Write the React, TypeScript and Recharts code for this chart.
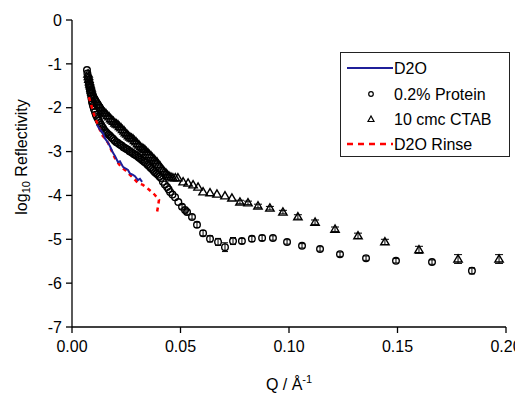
import { ScatterChart, Scatter, XAxis, YAxis, ErrorBar } from "recharts";

// Q (1/Å) and log10 R
const proteinQ = [0.0069, 0.0071, 0.0074, 0.0076, 0.0078, 0.0081, 0.0083, 0.0085, 0.0088, 0.009, 0.0092, 0.0094, 0.0097, 0.0101, 0.0106, 0.011, 0.0115, 0.012, 0.0124, 0.0129, 0.0134, 0.0138, 0.0143, 0.0147, 0.0152, 0.0157, 0.0161, 0.0168, 0.0175, 0.0182, 0.0189, 0.0196, 0.0203, 0.021, 0.0217, 0.0224, 0.023, 0.0237, 0.0244, 0.0251, 0.0258, 0.0265, 0.0272, 0.0279, 0.0286, 0.0293, 0.03, 0.0307, 0.0313, 0.032, 0.0327, 0.0334, 0.0341, 0.0348, 0.0355, 0.0362, 0.0369, 0.0376, 0.0382, 0.0389, 0.0396, 0.0403, 0.041, 0.0419, 0.0428, 0.0438, 0.0445, 0.0452, 0.0463, 0.0475, 0.049, 0.0507, 0.0521, 0.053, 0.0553, 0.0576, 0.0604, 0.0636, 0.0673, 0.0705, 0.0742, 0.0783, 0.0829, 0.0876, 0.0926, 0.0991, 0.106, 0.1143, 0.1235, 0.1355, 0.1493, 0.1659, 0.1843];
const proteinR = [-1.14, -1.22, -1.32, -1.4, -1.46, -1.53, -1.6, -1.66, -1.73, -1.79, -1.85, -1.9, -1.96, -2.03, -2.1, -2.16, -2.21, -2.26, -2.3, -2.35, -2.39, -2.43, -2.46, -2.5, -2.53, -2.56, -2.58, -2.61, -2.64, -2.68, -2.71, -2.75, -2.78, -2.8, -2.83, -2.85, -2.87, -2.9, -2.92, -2.94, -2.96, -2.99, -3.01, -3.03, -3.06, -3.08, -3.1, -3.13, -3.15, -3.18, -3.21, -3.24, -3.26, -3.3, -3.33, -3.37, -3.4, -3.44, -3.47, -3.5, -3.53, -3.57, -3.6, -3.69, -3.75, -3.81, -3.86, -3.92, -3.98, -4.04, -4.15, -4.26, -4.33, -4.38, -4.49, -4.67, -4.86, -4.99, -5.06, -5.18, -5.04, -5.04, -4.99, -4.97, -4.97, -5.06, -5.15, -5.22, -5.34, -5.43, -5.49, -5.52, -5.72];
// error bars of the last 22 protein points (Q >= 0.0507)
const proteinErrTail = [0.05, 0.05, 0.05, 0.05, 0.06, 0.06, 0.07, 0.08, 0.1, 0.08, 0.06, 0.06, 0.06, 0.05, 0.05, 0.05, 0.05, 0.05, 0.05, 0.05, 0.05, 0.07];

const ctabQ = [0.0074, 0.0076, 0.0078, 0.0081, 0.0083, 0.0085, 0.0088, 0.009, 0.0092, 0.0097, 0.0101, 0.0106, 0.0111, 0.0115, 0.012, 0.0124, 0.0129, 0.0134, 0.0138, 0.0143, 0.0147, 0.0152, 0.0157, 0.0164, 0.0171, 0.0178, 0.0184, 0.0191, 0.0198, 0.0205, 0.0212, 0.0219, 0.0226, 0.0233, 0.024, 0.0246, 0.0253, 0.026, 0.0267, 0.0274, 0.0281, 0.0288, 0.0295, 0.0302, 0.0309, 0.0316, 0.0323, 0.033, 0.0336, 0.0343, 0.035, 0.0357, 0.0364, 0.0371, 0.0378, 0.0385, 0.0392, 0.0399, 0.0406, 0.0413, 0.0419, 0.0426, 0.0433, 0.044, 0.0447, 0.0456, 0.0465, 0.0476, 0.0488, 0.0512, 0.0535, 0.0558, 0.0581, 0.0604, 0.0636, 0.0668, 0.0705, 0.0737, 0.0774, 0.0811, 0.0857, 0.0912, 0.0972, 0.1041, 0.112, 0.1212, 0.1318, 0.1442, 0.1599, 0.1779, 0.1968];
const ctabR = [-1.23, -1.29, -1.35, -1.41, -1.46, -1.5, -1.55, -1.6, -1.64, -1.69, -1.73, -1.78, -1.82, -1.86, -1.89, -1.93, -1.96, -2.0, -2.03, -2.07, -2.1, -2.12, -2.14, -2.18, -2.21, -2.25, -2.28, -2.31, -2.35, -2.37, -2.39, -2.43, -2.46, -2.5, -2.53, -2.57, -2.6, -2.64, -2.67, -2.69, -2.71, -2.75, -2.78, -2.82, -2.85, -2.89, -2.92, -2.94, -2.96, -3.0, -3.03, -3.07, -3.1, -3.14, -3.17, -3.21, -3.24, -3.29, -3.33, -3.38, -3.42, -3.46, -3.49, -3.53, -3.56, -3.58, -3.6, -3.6, -3.6, -3.69, -3.72, -3.76, -3.81, -3.92, -3.94, -3.97, -4.01, -4.06, -4.15, -4.17, -4.24, -4.29, -4.38, -4.49, -4.61, -4.77, -4.92, -5.06, -5.24, -5.45, -5.45];
// error bars of the last 22 CTAB points (Q >= 0.0512)
const ctabErrTail = [0, 0, 0, 0, 0, 0, 0, 0, 0, 0.04, 0.04, 0.04, 0.04, 0.04, 0.05, 0.05, 0.05, 0.06, 0.06, 0.08, 0.1, 0.1];

const d2oQ = [0.0115, 0.0129, 0.0143, 0.0152, 0.0166, 0.0175, 0.0189, 0.0198, 0.0212, 0.0221, 0.0235, 0.0244, 0.0258, 0.0267, 0.0281, 0.029, 0.0304, 0.0313, 0.0323];
const d2oR = [-2.39, -2.5, -2.58, -2.7, -2.8, -2.88, -3.03, -3.1, -3.24, -3.22, -3.35, -3.38, -3.42, -3.5, -3.53, -3.56, -3.65, -3.62, -3.69];

const rinseQ = [0.0078, 0.0092, 0.0106, 0.0124, 0.0138, 0.0152, 0.0166, 0.0184, 0.0198, 0.0214, 0.023, 0.0249, 0.0267, 0.0286, 0.0304, 0.0327, 0.035, 0.0368, 0.0382, 0.0401, 0.0396, 0.0392];
const rinseR = [-1.76, -2.0, -2.23, -2.45, -2.62, -2.7, -2.8, -3.0, -3.15, -3.27, -3.37, -3.44, -3.53, -3.62, -3.72, -3.76, -3.85, -3.92, -3.99, -4.1, -4.26, -4.38];

const xTicks = [0, 0.05, 0.1, 0.15, 0.2];
const yTicks = [0, -1, -2, -3, -4, -5, -6, -7];

const toPoints = (q: number[], r: number[], errTail: number[] = []) => {
  const start = q.length - errTail.length;
  return q.map((v, i) => ({ q: v, r: r[i], err: i >= start ? errTail[i - start] : 0 }));
};

const protein = toPoints(proteinQ, proteinR, proteinErrTail);
const ctab = toPoints(ctabQ, ctabR, ctabErrTail);
const d2o = toPoints(d2oQ, d2oR);
const rinse = toPoints(rinseQ, rinseR);

const FONT = "'Liberation Sans', Arial, sans-serif";

const OpenCircle = (p: any) => (
  <circle cx={p.cx} cy={p.cy} r={3.3} fill="none" stroke="#000" strokeWidth={1.4} />
);

const OpenTriangle = (p: any) => (
  <polygon
    points={`${p.cx},${p.cy - 4.2} ${p.cx - 4.2},${p.cy + 3} ${p.cx + 4.2},${p.cy + 3}`}
    fill="none"
    stroke="#000"
    strokeWidth={1.4}
  />
);

const NoDot = () => <g />;

function LegendBox() {
  return (
    <div style={{ position: "absolute", left: 332, top: 44, width: 168, height: 103, border: "1px solid #222", background: "#fff", fontFamily: FONT }}>
      <svg width={168} height={103} style={{ display: "block" }}>
        <line x1={6} x2={52} y1={15} y2={15} stroke="#1f1f99" strokeWidth={2} />
        <text x={53} y={21} fontSize={16} fill="#000">D2O</text>
        <circle cx={30} cy={41} r={2.3} fill="none" stroke="#000" strokeWidth={1.2} />
        <text x={53} y={47} fontSize={16} fill="#000">0.2% Protein</text>
        <polygon points="30,63 27,68.5 33,68.5" fill="none" stroke="#000" strokeWidth={1.2} />
        <text x={53} y={72} fontSize={16} fill="#000">10 cmc CTAB</text>
        <line x1={6} x2={52} y1={91} y2={91} stroke="#ff0000" strokeWidth={2.5} strokeDasharray="6 5" />
        <text x={53} y={97} fontSize={16} fill="#000">D2O Rinse</text>
      </svg>
    </div>
  );
}

const YLabel = () => (
  <text transform="rotate(-90, 15, 149)" x={15} y={149} textAnchor="middle" fontSize={16} fontFamily={FONT} fill="#000" dominantBaseline="middle">
    log<tspan fontSize={11} dy={4}>10</tspan><tspan dy={-4}> Reflectivity</tspan>
  </text>
);

const XLabel = () => (
  <text x={281} y={382} textAnchor="middle" fontSize={16} fontFamily={FONT} fill="#000">
    Q / Å<tspan fontSize={11} dy={-7}>-1</tspan>
  </text>
);

export default function App() {
  return (
    <div style={{ position: "relative", width: 515, height: 386, background: "#fff" }}>
      <ScatterChart width={515} height={386} margin={{ top: 12, right: 17, bottom: 17, left: 14 }}>
        <XAxis
          type="number"
          dataKey="q"
          domain={[0, 0.2]}
          ticks={xTicks}
          tickFormatter={(v: number) => v.toFixed(2)}
          tick={{ fill: "#000", fontSize: 16, fontFamily: FONT }}
          tickLine={{ stroke: "#000", strokeWidth: 1.3 }}
          axisLine={{ stroke: "#000", strokeWidth: 1.3 }}
          tickSize={6}
          tickMargin={8}
          height={50}
          allowDataOverflow
          label={<XLabel />}
        />
        <YAxis
          type="number"
          dataKey="r"
          domain={[-7, 0]}
          ticks={yTicks}
          tick={{ fill: "#000", fontSize: 16, fontFamily: FONT }}
          tickLine={{ stroke: "#000", strokeWidth: 1.3 }}
          axisLine={{ stroke: "#000", strokeWidth: 1.3 }}
          tickSize={6}
          tickMargin={4}
          width={50}
          allowDataOverflow
          label={<YLabel />}
        />
        <Scatter name="0.2% Protein" data={protein} shape={OpenCircle} isAnimationActive={false}>
          <ErrorBar dataKey="err" direction="y" width={3} stroke="#000" strokeWidth={1} />
        </Scatter>
        <Scatter name="10 cmc CTAB" data={ctab} shape={OpenTriangle} isAnimationActive={false}>
          <ErrorBar dataKey="err" direction="y" width={4} stroke="#000" strokeWidth={1} />
        </Scatter>
        <Scatter
          name="D2O Rinse"
          data={rinse}
          shape={NoDot}
          line={{ stroke: "#ff0000", strokeWidth: 2.5, strokeDasharray: "4 4" }}
          lineType="joint"
          isAnimationActive={false}
        />
        <Scatter
          name="D2O"
          data={d2o}
          shape={NoDot}
          line={{ stroke: "#1f1f99", strokeWidth: 2 }}
          lineType="joint"
          isAnimationActive={false}
        />
      </ScatterChart>
      <LegendBox />
    </div>
  );
}
